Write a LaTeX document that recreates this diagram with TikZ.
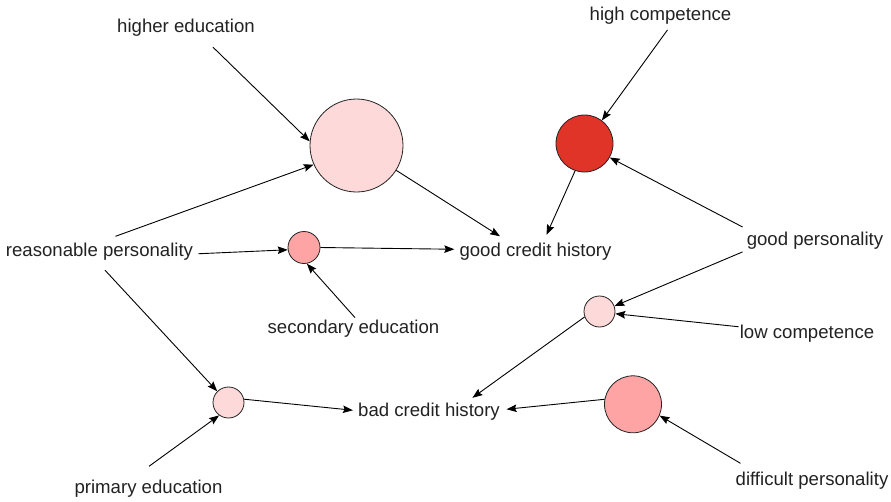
\documentclass[tikz,border=0pt]{standalone}
\usepackage{fontspec}
\setmainfont{Liberation Sans}
\usetikzlibrary{arrows.meta}
\definecolor{PalePink}{HTML}{FDD9D9}
\definecolor{MidPink}{HTML}{FFA4A4}
\definecolor{DeepRed}{HTML}{E03428}
\definecolor{InkGray}{HTML}{222222}

\begin{document}
\begin{tikzpicture}[
      x=1pt, y=-1pt,
      textnode/.style={
        inner sep=5pt,
        text height=13.5pt,
        text depth=4pt,
        text=InkGray,
        font=\fontsize{18.6}{22}\selectfont
      },
      bubble/.style={circle,draw=InkGray,line width=0.8pt,inner sep=0pt},
      arrow/.style={-{Stealth[length=10pt,width=7.5pt,inset=1.5pt]},line width=0.9pt,color=black}
    ]
      \useasboundingbox (0,0) rectangle (891,501);
      % circles
      \node[bubble,fill=PalePink,minimum size=93pt] (c1) at (356.5,145.5) {};
      \node[bubble,fill=DeepRed,minimum size=57pt] (c2) at (584.5,143.5) {};
      \node[bubble,fill=MidPink,minimum size=32pt] (c3) at (304,247.5) {};
      \node[bubble,fill=PalePink,minimum size=31pt] (c4) at (599.5,311.5) {};
      \node[bubble,fill=MidPink,minimum size=57pt] (c5) at (633,404.3) {};
      \node[bubble,fill=PalePink,minimum size=31pt] (c6) at (228.5,402.5) {};
      % labels
      \node[textnode] (hiedu) at (186,27.25) {higher education};
      \node[textnode] (hicomp) at (660.5,15.95) {high competence};
      \node[textnode] (reaspers) at (99.5,251.25) {reasonable personality};
      \node[textnode] (goodcred) at (535.5,251.25) {good credit history};
      \node[textnode] (goodpers) at (815,240.95) {good personality};
      \node[textnode] (secedu) at (353.5,328.55) {secondary education};
      \node[textnode] (lowcomp) at (807,333.75) {low competence};
      \node[textnode] (badcred) at (429,411.75) {bad credit history};
      \node[textnode] (primedu) at (148.5,488.25) {primary education};
      \node[textnode] (diffpers) at (812,480.25) {difficult personality};
      % connectors
      \draw[arrow] ([xshift=27pt,yshift=-6pt]hiedu.south) -- (c1.175);
      \draw[arrow] ([xshift=16pt,yshift=1pt]reaspers.north) -- (c1.204);
      \draw[arrow] ([yshift=-2.5pt]reaspers.east) -- (c3.188);
      \draw[arrow] ([xshift=5.5pt,yshift=-5pt]reaspers.south) -- (c6.135);
      \draw[arrow] ([xshift=1.5pt,yshift=-3pt]secedu.north) -- (c3.280);
      \draw[arrow] (c3.0) -- ([yshift=2pt]goodcred.west);
      \draw[arrow] (c1.328) -- ([xshift=-35.5pt,yshift=1pt]goodcred.north);
      \draw[arrow] ([xshift=7pt]hicomp.south) -- (c2.53);
      \draw[arrow] (c2.251) -- ([xshift=11pt,yshift=2.5pt]goodcred.north);
      \draw[arrow] ([xshift=1pt]goodpers.north west) -- (c2.331);
      \draw[arrow] ([xshift=1pt,yshift=3pt]goodpers.south west) -- (c4.20);
      \draw[arrow] ([xshift=4pt,yshift=7pt]lowcomp.west) -- (c4.352);
      \draw[arrow] (c4.200) -- ([xshift=43.4pt]badcred.north);
      \draw[arrow] (c6.12) -- ([yshift=1.5pt]badcred.west);
      \draw[arrow] (c5.170) -- ([xshift=1.5pt,yshift=2.5pt]badcred.east);
      \draw[arrow] ([xshift=10pt,yshift=3pt]diffpers.north west) -- (c5.337);
      \draw[arrow] ([xshift=0.5pt,yshift=8pt]primedu.north) -- (c6.234);
    \end{tikzpicture}
\end{document}
